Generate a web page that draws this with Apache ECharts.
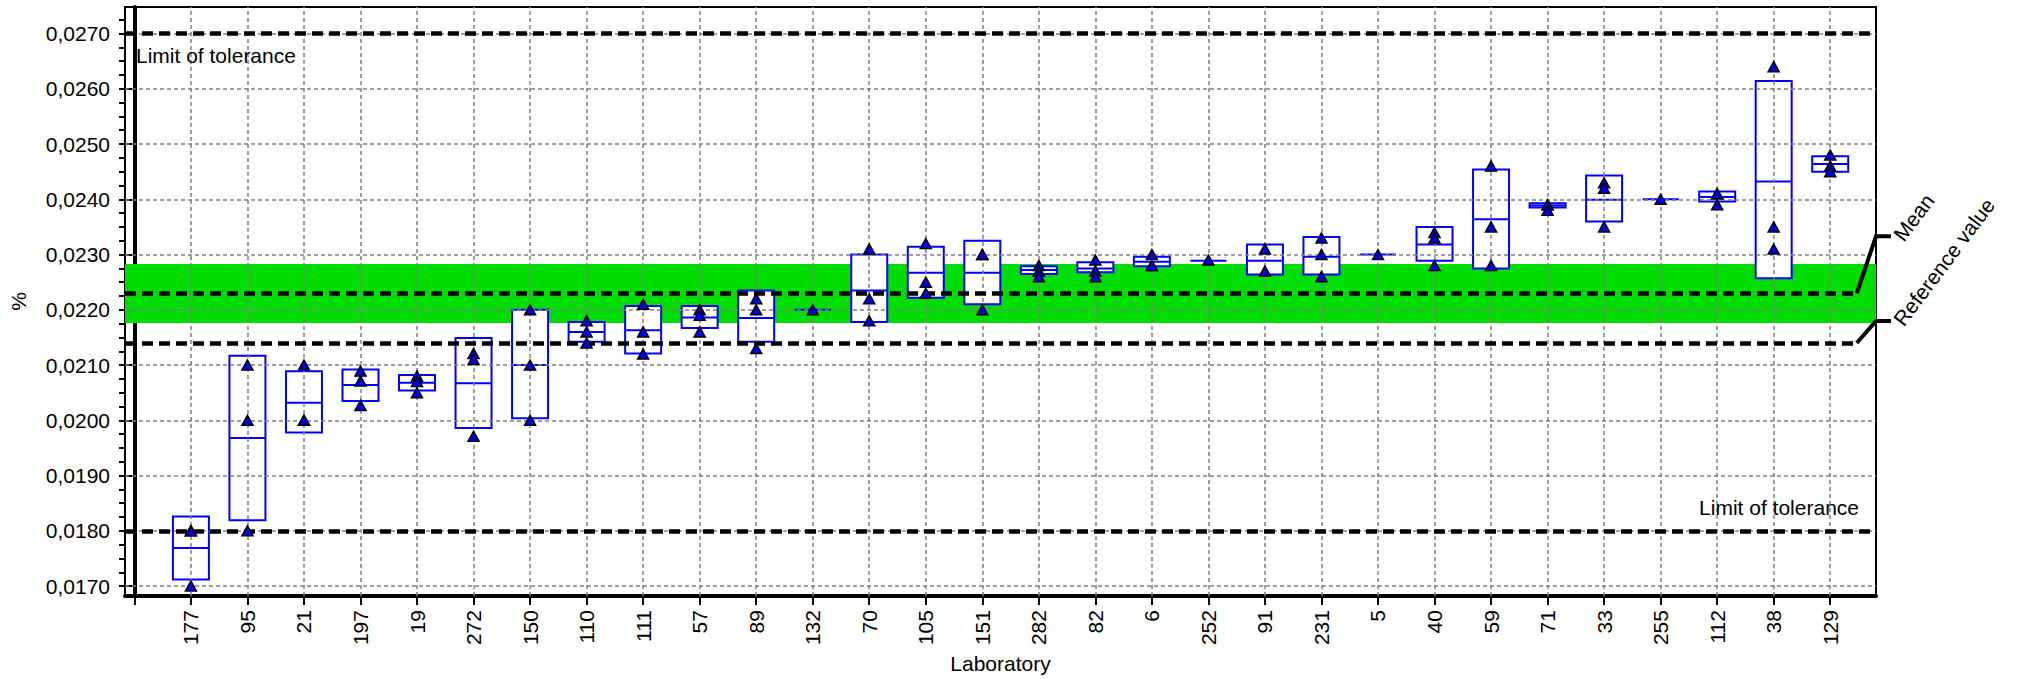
<!DOCTYPE html>
<html><head><meta charset="utf-8">
<script src="https://cdn.jsdelivr.net/npm/echarts@6/dist/echarts.min.js"></script>
<style>html,body{margin:0;padding:0;background:#fff}#c{width:2035px;height:679px}</style>
</head><body><div id="c"></div>
<script>
// ---- data ----
const labs = ['177','95','21','197','19','272','150','110','111','57','89','132','70','105','151','282','82','6','252','91','231','5','40','59','71','33','255','112','38','129'];
const boxLow  = [0.01712,0.01819,0.01978,0.02035,0.02054,0.01986,0.02004,0.02142,0.02121,0.02167,0.02142,0.02200,0.02178,0.02222,0.02210,0.02265,0.02268,0.02279,0.02289,0.02264,0.02264,0.02300,0.02289,0.02275,0.02385,0.02360,0.02400,0.02396,0.02257,0.02450];
const boxMean = [0.01769,0.01968,0.02032,0.02064,0.02068,0.02067,0.02100,0.02160,0.02163,0.02186,0.02185,0.02200,0.02235,0.02267,0.02267,0.02272,0.02275,0.02287,0.02289,0.02289,0.02296,0.02300,0.02318,0.02364,0.02389,0.02399,0.02400,0.02404,0.02432,0.02464];
const boxHigh = [0.01826,0.02117,0.02089,0.02092,0.02082,0.02149,0.02200,0.02178,0.02207,0.02207,0.02235,0.02200,0.02300,0.02314,0.02325,0.02279,0.02286,0.02296,0.02289,0.02318,0.02332,0.02300,0.02350,0.02454,0.02393,0.02443,0.02400,0.02414,0.02614,0.02478];
const results = [
  [0.0180,0.0180,0.0170],[0.0210,0.0200,0.0180],[0.0210,0.0200,0.0200],[0.02089,0.02071,0.02027],
  [0.0208,0.0207,0.0205],[0.02121,0.02110,0.01971],[0.0220,0.0210,0.0200],[0.0218,0.0216,0.0214],
  [0.0221,0.0216,0.0212],[0.0220,0.0219,0.0216],[0.0222,0.0220,0.0213],[0.0220],
  [0.0231,0.0222,0.0218],[0.0232,0.0225,0.0223],[0.0230,0.0230,0.0220],[0.0228,0.0227,0.0226],
  [0.0229,0.0227,0.0226],[0.0230,0.0228,0.0228],[0.0229],[0.0231,0.0227],
  [0.0233,0.0230,0.0226],[0.0230],[0.0234,0.0233,0.0228],[0.0246,0.0235,0.0228],
  [0.0239,0.0239,0.0238],[0.0243,0.0242,0.0235],[0.0240],[0.0241,0.0241,0.0239],
  [0.0264,0.0235,0.0231],[0.0248,0.0246,0.0245]
];
const yTickLabels = [0.0170,0.0180,0.0190,0.0200,0.0210,0.0220,0.0230,0.0240,0.0250,0.0260,0.0270];
const upperLimit = 0.0270, lowerLimit = 0.0180;
const meanValue = 0.0223, referenceValue = 0.0214;
const bandLow = 0.02176, bandHigh = 0.02283;

// ---- layout constants ----
const yMin = 0.01682, yMax = 0.02748;
const xMin = -0.166, xMax = 30.81;
const connectorX = 30.47;
const FONT = '"Liberation Sans", Arial, sans-serif';

const xTickValues = [0].concat(labs.map((_, i) => i + 1));
const xLabelValues = labs.map((_, i) => i + 1);
const yMinor = [];
for (let k = 0; k <= 42; k++) { const v = +(0.01675 + k * 0.00025).toFixed(5); if (v >= yMin && v <= yMax) yMinor.push(v); }

const boxData = labs.map((l, i) => [i + 1, boxLow[i], boxMean[i], boxHigh[i]]);
const pointData = [];
results.forEach((arr, i) => arr.forEach(v => pointData.push([i + 1, v])));

const fmt = v => v.toFixed(4).replace('.', ',');
const chart = echarts.init(document.getElementById('c'), null, { renderer: 'svg' });

const hLine = (v, x2) => [{ coord: [xMin, v] }, { coord: [x2, v] }];

const option = {
  animation: false,
  backgroundColor: '#fff',
  grid: { left: 122, right: 159, top: 7, bottom: 78, show: true, borderColor: '#000', borderWidth: 2, containLabel: false },
  xAxis: {
    type: 'value', min: xMin, max: xMax,
    name: 'Laboratory', nameLocation: 'middle', nameGap: 50,
    nameTextStyle: { fontFamily: FONT, fontSize: 21, color: '#000' },
    axisLine: { lineStyle: { color: '#000', width: 4 } },
    axisTick: { customValues: xTickValues, length: 9, lineStyle: { color: '#000', width: 2 } },
    axisLabel: { customValues: xLabelValues, rotate: 90, margin: 14, fontFamily: FONT, fontSize: 21, color: '#000',
                 formatter: v => labs[Math.round(v) - 1] || '' },
    splitLine: { show: false }
  },
  yAxis: [{
    type: 'value', min: yMin, max: yMax, position: 'left',
    name: '%', nameLocation: 'middle', nameGap: 96, nameRotate: 90,
    nameTextStyle: { fontFamily: FONT, fontSize: 21, color: '#000' },
    axisLine: { show: true, lineStyle: { color: '#000', width: 4 } },
    axisTick: { show: true, customValues: yTickLabels, length: 10, lineStyle: { color: '#000', width: 2 } },
    axisLabel: { customValues: yTickLabels, margin: 15, fontFamily: FONT, fontSize: 21, color: '#000', formatter: fmt },
    splitLine: { show: false }
  }, {
    type: 'value', min: yMin, max: yMax, position: 'left', offset: 0,
    axisLine: { show: false },
    axisTick: { show: true, customValues: yMinor, length: 6, lineStyle: { color: '#000', width: 2 } },
    axisLabel: { show: false },
    splitLine: { show: false }
  }],
  series: [
    { // grid lines
      type: 'line', data: [], z: 1, silent: true,
      markLine: {
        silent: true, symbol: 'none', label: { show: false }, animation: false,
        lineStyle: { color: '#808080', width: 1.5, type: [4, 3] },
        data: yTickLabels.map(v => hLine(v, xMax)).concat(xLabelValues.map(v => [{ coord: [v, yMin] }, { coord: [v, yMax] }]))
      }
    },
    { // band
      type: 'line', data: [], z: 2, silent: true,
      markArea: { silent: true, itemStyle: { color: '#00dd00', opacity: 1 }, label: { show: false },
        data: [[{ coord: [xMin, bandLow] }, { coord: [xMax, bandHigh] }]] }
    },
    { // limit / mean / reference lines
      type: 'line', data: [], z: 3, silent: true,
      markLine: {
        silent: true, symbol: 'none', label: { show: false }, animation: false,
        lineStyle: { color: '#000', width: 4.5, type: [11, 6] },
        data: [hLine(upperLimit, xMax), hLine(lowerLimit, xMax), hLine(meanValue, connectorX), hLine(referenceValue, connectorX)]
      }
    },
    { // boxes
      type: 'custom', z: 4, data: boxData, silent: true,
      renderItem: (params, api) => {
        const x = api.value(0);
        const lo = api.coord([x, api.value(1)]);
        const mid = api.coord([x, api.value(2)]);
        const hi = api.coord([x, api.value(3)]);
        const hw = 18;
        const children = [];
        if (Math.abs(lo[1] - hi[1]) > 0.5) {
          children.push({ type: 'rect', shape: { x: lo[0] - hw, y: hi[1], width: 2 * hw, height: lo[1] - hi[1] },
            style: { fill: '#fff', stroke: '#0000ff', lineWidth: 2 } });
        }
        children.push({ type: 'line', shape: { x1: lo[0] - hw, y1: mid[1], x2: lo[0] + hw, y2: mid[1] },
          style: { stroke: '#0000ff', lineWidth: 2 } });
        return { type: 'group', children };
      }
    },
    { // results
      type: 'scatter', z: 5, data: pointData, symbol: 'triangle', symbolSize: [11, 10], silent: true,
      itemStyle: { color: '#0000ee', borderColor: '#000', borderWidth: 1.5, opacity: 1 }
    }
  ]
};
chart.setOption(option);

const px = p => chart.convertToPixel({ gridIndex: 0 }, p);
const R = px([xMax, meanValue])[0];
const L = px([xMin, meanValue])[0];
const pm = px([connectorX, meanValue]);
const pr = px([connectorX, referenceValue]);
const yUp = px([xMin, upperLimit])[1];
const yLo = px([xMin, lowerLimit])[1];
const meanStubY = pm[1] - 57, refStubY = pr[1] - 22;
const ang = 53 * Math.PI / 180;
const txt = { fontFamily: FONT, fontSize: 21, fill: '#000' };
chart.setOption({
  graphic: [
    { type: 'polyline', z: 10, shape: { points: [[pm[0], pm[1]], [R, meanStubY], [R + 15, meanStubY]] }, style: { stroke: '#000', lineWidth: 4, fill: null } },
    { type: 'polyline', z: 10, shape: { points: [[pr[0], pr[1]], [R, refStubY], [R + 15, refStubY]] }, style: { stroke: '#000', lineWidth: 4, fill: null } },
    { type: 'text', z: 10, x: R + 22, y: meanStubY + 2, rotation: ang, style: Object.assign({ text: 'Mean', align: 'left', verticalAlign: 'middle' }, txt) },
    { type: 'text', z: 10, x: R + 22, y: refStubY + 2, rotation: ang, style: Object.assign({ text: 'Reference value', align: 'left', verticalAlign: 'middle' }, txt) },
    { type: 'text', z: 10, x: L + 11, y: yUp + 11, style: Object.assign({ text: 'Limit of tolerance', align: 'left', verticalAlign: 'top' }, txt) },
    { type: 'text', z: 10, x: R - 17, y: yLo - 13, style: Object.assign({ text: 'Limit of tolerance', align: 'right', verticalAlign: 'bottom' }, txt) }
  ]
});
</script>
</body></html>
